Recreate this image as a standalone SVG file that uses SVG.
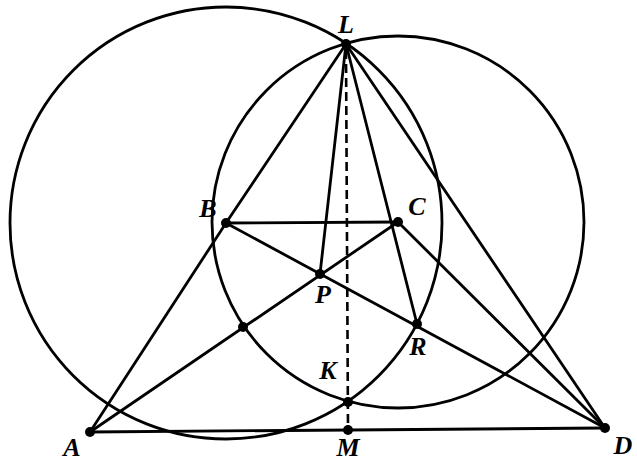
<svg xmlns="http://www.w3.org/2000/svg" width="637" height="464" viewBox="0 0 637 464">
<style>
.c{fill:none;stroke:#000;stroke-width:2.8}
.l{stroke:#000;stroke-width:2.8;stroke-linecap:round}
.d{stroke:#000;stroke-width:2.6;stroke-dasharray:9 5}
.p{fill:#000}
.t{font-family:"Liberation Serif","Times New Roman",serif;font-style:italic;font-weight:bold;font-size:26px;fill:#000;text-anchor:middle}
</style>
<rect width="637" height="464" fill="#fff"/>
<g id="circles">
<circle id="circleB" class="c" cx="226" cy="223" r="216"/>
<circle id="circleC" class="c" cx="398" cy="222" r="186"/>
</g>
<g id="connectors">
<line class="l" x1="90" y1="432" x2="226" y2="223"/>
<line class="l" x1="226" y1="223" x2="346" y2="44"/>
<line class="l" x1="226" y1="223" x2="398" y2="222"/>
<line class="l" x1="226" y1="223" x2="605" y2="428"/>
<line class="l" x1="90" y1="432" x2="398" y2="222"/>
<line class="l" x1="398" y1="222" x2="605" y2="428"/>
<line class="l" x1="346" y1="44" x2="320" y2="274"/>
<line class="l" x1="346" y1="44" x2="417" y2="324"/>
<line class="l" x1="346" y1="44" x2="605" y2="428"/>
<line class="l" x1="90" y1="432" x2="605" y2="428"/>
<line class="d" x1="346" y1="50" x2="348" y2="430"/>
</g>
<g id="L"><circle class="p" cx="346" cy="44" r="5"/><text class="t" x="346" y="33">L</text></g>
<g id="B"><circle class="p" cx="226" cy="223" r="5"/><text class="t" x="208" y="217">B</text></g>
<g id="C"><circle class="p" cx="398" cy="222" r="5"/><text class="t" x="417" y="215">C</text></g>
<g id="P"><circle class="p" cx="320" cy="274" r="5"/><text class="t" x="323" y="303">P</text></g>
<g id="R"><circle class="p" cx="417" cy="324" r="5"/><text class="t" x="418" y="355">R</text></g>
<g id="K"><circle class="p" cx="348" cy="402" r="5"/><text class="t" x="328" y="379">K</text></g>
<g id="M"><circle class="p" cx="348" cy="430" r="5"/><text class="t" x="348" y="456">M</text></g>
<g id="A"><circle class="p" cx="90" cy="432" r="5"/><text class="t" x="72" y="456">A</text></g>
<g id="D"><circle class="p" cx="605" cy="428" r="5"/><text class="t" x="623" y="454">D</text></g>
<g id="Q"><circle class="p" cx="243" cy="327" r="5"/></g>
</svg>
